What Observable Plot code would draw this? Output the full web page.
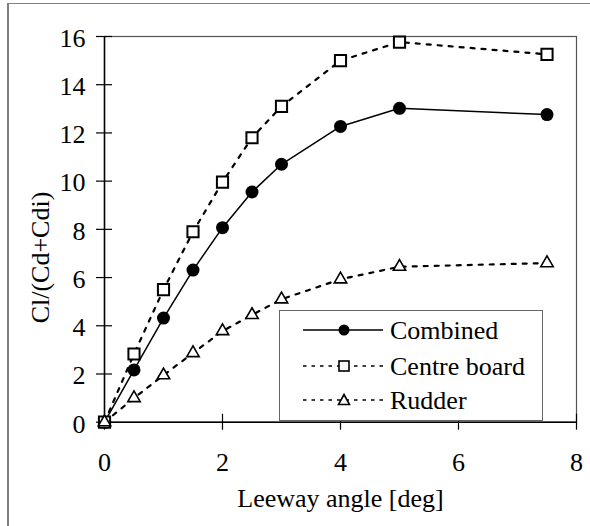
<!DOCTYPE html>
<html><head><meta charset="utf-8">
<script src="https://cdn.jsdelivr.net/npm/d3@7"></script>
<script src="https://cdn.jsdelivr.net/npm/@observablehq/plot@0.6"></script>
<style>
body{margin:0;background:#fff;}
#wrap{position:relative;width:590px;height:526px;overflow:hidden;font-family:Liberation Serif;background:#fff;}
#wrap svg{position:absolute;left:0;top:0;background:transparent;}
#wrap text{font-family:Liberation Serif;}
#outer{position:absolute;left:7px;top:3px;width:700px;height:700px;border-left:2px solid #808080;border-top:1.5px solid #808080;pointer-events:none;}
#legend{position:absolute;left:279px;top:310px;width:264px;height:111px;border:1.5px solid #666;background:#fff;box-sizing:border-box;}
</style></head><body><div id="wrap"></div>
<script>
const angles = [0, 0.5, 1, 1.5, 2, 2.5, 3, 4, 5, 7.5];
const combined = [0, 2.17, 4.32, 6.31, 8.07, 9.55, 10.7, 12.27, 13.02, 12.76];
const centreBoard = [0, 2.83, 5.5, 7.9, 9.96, 11.8, 13.1, 15.0, 15.77, 15.26];
const rudder = [0, 1.0, 1.95, 2.87, 3.78, 4.45, 5.1, 5.93, 6.45, 6.6];
const seriesNames = ["Combined", "Centre board", "Rudder"];
const xTicks = [0, 2, 4, 6, 8];
const yTicks = [0, 2, 4, 6, 8, 10, 12, 14, 16];
const xTitle = "Leeway angle [deg]";
const yTitle = "Cl/(Cd+Cdi)";

const rowsOf = (vals) => angles.map((a, i) => ({a, v: vals[i]}));
const rC = rowsOf(combined), rB = rowsOf(centreBoard), rR = rowsOf(rudder);
const FS = 26;
const FF = "Liberation Serif";

const chart = Plot.plot({
  width: 590, height: 526,
  marginLeft: 104, marginRight: 14, marginTop: 36, marginBottom: 104.3,
  style: {fontFamily: FF, fontSize: FS + "px", color: "black", background: "transparent"},
  x: {domain: [0, 8]},
  y: {domain: [0, 16]},
  marks: [
    Plot.frame({stroke: "#555", strokeWidth: 1.2}),
    Plot.ruleX([0], {stroke: "black", strokeWidth: 1.5}),
    Plot.ruleY([0], {stroke: "black", strokeWidth: 1.5}),
    Plot.axisX(xTicks, {tickSize: 16, dy: -8, fill: "none", stroke: "black", strokeWidth: 1.2, label: null}),
    Plot.axisY(yTicks, {tickSize: 16, dx: 8, fill: "none", stroke: "black", strokeWidth: 1.2, label: null}),
    Plot.axisX(xTicks, {tickSize: 0, tickPadding: 30, fontSize: FS, fontFamily: FF, fill: "black", label: null}),
    Plot.axisY(yTicks, {tickSize: 0, tickPadding: 19, dy: 2, fontSize: FS, fontFamily: FF, fill: "black", label: null}),
    Plot.line(rB, {x: "a", y: "v", stroke: "black", strokeWidth: 2.2, strokeDasharray: "4,7"}),
    Plot.line(rR, {x: "a", y: "v", stroke: "black", strokeWidth: 2.2, strokeDasharray: "4,7"}),
    Plot.line(rC, {x: "a", y: "v", stroke: "black", strokeWidth: 1.5}),
    Plot.dot(rC, {x: "a", y: "v", r: 6.5, fill: "black", stroke: "none"}),
    Plot.dot(rB, {x: "a", y: "v", symbol: "square", r: 6.3, fill: "white", stroke: "black", strokeWidth: 2}),
    Plot.dot(rR, {x: "a", y: "v", symbol: "triangle", r: 4.6, fill: "white", stroke: "black", strokeWidth: 1.6}),
    Plot.text([xTitle], {text: d => d, frameAnchor: "middle", dy: 269, fontSize: FS, fontFamily: FF, fill: "black"}),
    Plot.text([yTitle], {text: d => d, frameAnchor: "middle", textAnchor: "start", rotate: -90, dx: -300, dy: 94, fontSize: FS, fontFamily: FF, fill: "black"})
  ]
});
const wrap = document.getElementById("wrap");
wrap.appendChild(chart);

// legend
const leg = document.createElement("div");
leg.id = "legend";
const rowsY = [20, 56, 90];
const styles = [
  {dash: null, sw: 1.5, sym: "circle"},
  {dash: "3.5,5", sw: 1.5, sym: "square"},
  {dash: "3.5,5", sw: 1.5, sym: "triangle"}
];
let svg = `<svg width="264" height="111" style="position:absolute;left:-1.5px;top:-1.5px" font-family="Liberation Serif" font-size="${FS}">`;
seriesNames.forEach((name, i) => {
  const y = rowsY[i], s = styles[i];
  svg += `<line x1="24" x2="104" y1="${y}" y2="${y}" stroke="black" stroke-width="${s.sw}" ${s.dash ? `stroke-dasharray="${s.dash}"` : ""}/>`;
  if (s.sym === "circle") svg += `<circle cx="65" cy="${y}" r="5.5" fill="black"/>`;
  else if (s.sym === "square") svg += `<rect x="60" y="${y - 5}" width="10" height="10" fill="white" stroke="black" stroke-width="1.6"/>`;
  else svg += `<path d="M65,${y - 5.5}L70.5,${y + 4.5}L59.5,${y + 4.5}Z" fill="white" stroke="black" stroke-width="1.6"/>`;
  svg += `<text x="111" y="${y}" dy="0.35em" fill="black">${name}</text>`;
});
svg += `</svg>`;
leg.innerHTML = svg;
wrap.appendChild(leg);

const outer = document.createElement("div");
outer.id = "outer";
wrap.appendChild(outer);
</script></body></html>
